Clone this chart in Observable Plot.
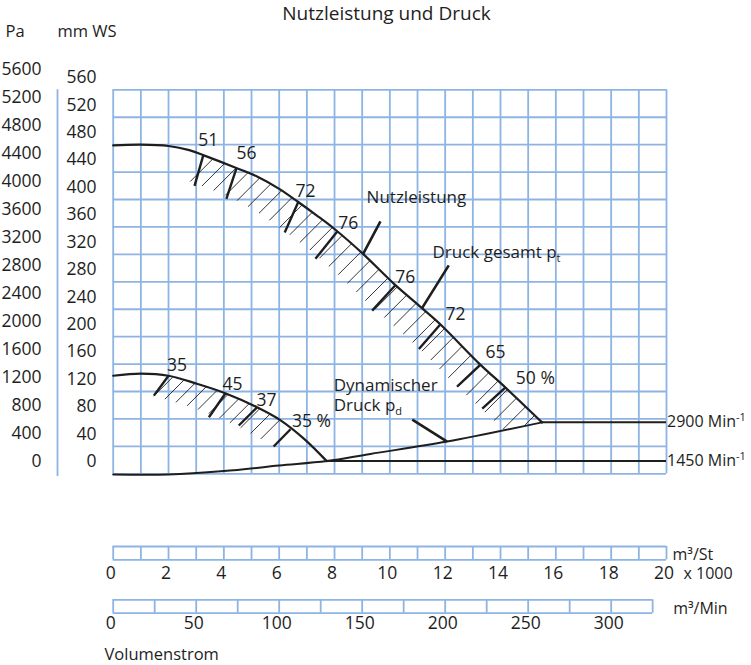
<!DOCTYPE html>
<html><head><meta charset="utf-8">
<script src="https://cdn.jsdelivr.net/npm/d3@7"></script>
<script src="https://cdn.jsdelivr.net/npm/@observablehq/plot@0.6"></script>
<style>
body{margin:0;background:#fff;}
#wrap{position:relative;width:751px;height:665px;overflow:hidden;}
#wrap svg{position:absolute;left:0;}
</style></head><body><div id="wrap"></div>
<script>
// ---- data (x: Volumenstrom in 1000 m³/St, y: Druck in mm WS) ----
const pt2900Flow  = [0, 1, 2, 2.75, 3.3, 4.45, 5.2, 6, 6.7, 7.35, 8, 9.05, 10.15, 11.15, 11.85, 13.25, 14.2, 15.5];
const pt2900Press = [459, 460, 458, 452, 444, 426, 413.5, 395.5, 376, 357, 337, 300, 257, 222, 197, 140, 105, 55];
const pt1450Flow  = [0, 1, 2, 3.05, 4.05, 5.2, 6.05, 6.9, 7.72];
const pt1450Press = [123, 126, 123, 111, 97.5, 77, 58, 31, -1.5];
const pdFlow  = [0, 2, 4, 6, 7.72, 9.3, 12.07, 15.5];
const pdPress = [-21, -21, -16, -8, -1.5, 9, 27, 55];

const rpmLabels = ["2900 Min^-1", "1450 Min^-1"];
const rpmPress  = [55, -1.5];
const rpmFrom   = [15.5, 7.72];

const eff2900Labels = ["51", "56", "72", "76", "76", "72", "65", "50 %"];
const eff2900Flow   = [3.26, 4.46, 6.69, 8.1, 10.2, 11.83, 13.27, 14.18];
const eff2900Press  = [445, 426, 376.5, 333.5, 255, 198, 139, 106];
const eff2900TickFlow  = [2.94, 4.09, 6.2, 7.31, 9.36, 11.05, 12.43, 13.34];
const eff2900TickPress = [400, 381, 332, 293.5, 218, 162, 107, 75];
const eff2900LabelFlow  = [3.44, 4.82, 6.95, 8.5, 10.56, 12.37, 13.82, 15.26];
const eff2900LabelPress = [466, 447, 392, 345, 266, 212, 157, 119];

const eff1450Labels = ["35", "45", "37", "35 %"];
const eff1450Flow   = [2.0, 4.06, 5.2, 6.41];
const eff1450Press  = [123, 97.5, 77, 45];
const eff1450TickFlow  = [1.47, 3.46, 4.54, 5.8];
const eff1450TickPress = [94, 62.5, 50.4, 19.8];
const eff1450LabelFlow  = [2.31, 4.31, 5.54, 7.17];
const eff1450LabelPress = [138, 110, 87, 56];

const annoText  = ["Nutzleistung", "Druck gesamt p_t", "Dynamischer\nDruck p_d"];
const annoFlow  = [9.16, 11.54, 7.97];
const annoPress = [384, 304, 95];
const pointerFlow1  = [9.03, 11.17, 10.81];
const pointerPress1 = [300.5, 222, 59];
const pointerFlow2  = [9.66, 12.13, 12.07];
const pointerPress2 = [348, 284, 27];

const hatchRanges = [[3.6, 15.3], [2.15, 6.3]]; // flow range of hatching, 2900 / 1450

const paTicks = [0, 400, 800, 1200, 1600, 2000, 2400, 2800, 3200, 3600, 4000, 4400, 4800, 5200, 5600];
const mmTicks = [0, 40, 80, 120, 160, 200, 240, 280, 320, 360, 400, 440, 480, 520, 560];
const xGrid = [0,1,2,3,4,5,6,7,8,9,10,11,12,13,14,15,16,17,18,19,20];
const yGrid = [-20, 20, 60, 100, 140, 180, 220, 260, 300, 340, 380, 420, 460, 500, 540];
const stTicks = [0, 2, 4, 6, 8, 10, 12, 14, 16, 18, 20];
const minCells = [0, 25, 50, 75, 100, 125, 150, 175, 200, 225, 250, 275, 300, 325];
const minTicks = [0, 50, 100, 150, 200, 250, 300];

// ---- styling ----
const GRID = "#8db4e2";
const INK = "#1e1e1e";
const FONT = "Open Sans";
const xRange = [112.7, 666];
const yRange = [473.3, 89.3];
const X = d3.scaleLinear().domain([0, 20]).range(xRange);
const Y = d3.scaleLinear().domain([-20, 540]).range(yRange);

const zip = (a, b) => a.map((v, i) => ({x: v, y: b[i]}));
const pt2900 = zip(pt2900Flow, pt2900Press);
const pt1450 = zip(pt1450Flow, pt1450Press);
const pd = zip(pdFlow, pdPress);
const rpm = rpmLabels.map((l, i) => ({label: l, y: rpmPress[i], from: rpmFrom[i]}));
const effTable = (lab, fx, fy, tx, ty, lx, ly) => lab.map((l, i) => ({label: l, x1: fx[i], y1: fy[i], x2: tx[i], y2: ty[i], lx: lx[i], ly: ly[i]}));
const eff2900 = effTable(eff2900Labels, eff2900Flow, eff2900Press, eff2900TickFlow, eff2900TickPress, eff2900LabelFlow, eff2900LabelPress);
const eff1450 = effTable(eff1450Labels, eff1450Flow, eff1450Press, eff1450TickFlow, eff1450TickPress, eff1450LabelFlow, eff1450LabelPress);
const anno = annoText.map((t, i) => ({t, x: annoFlow[i], y: annoPress[i]}));
const pointers = pointerFlow1.map((v, i) => ({x1: v, y1: pointerPress1[i], x2: pointerFlow2[i], y2: pointerPress2[i]}));

// hatch decoration, sampled along the drawn curves in pixel space
const pdPx = pdFlow.map((x, i) => [X(x), Y(pdPress[i])]);
function pdY(px) {
  if (px <= pdPx[0][0]) return 1e9;
  for (let i = 0; i < pdPx.length - 1; i++) {
    const [a, b] = [pdPx[i], pdPx[i + 1]];
    if (px >= a[0] && px <= b[0]) return a[1] + (b[1] - a[1]) * (px - a[0]) / (b[0] - a[0]);
  }
  return pdPx[pdPx.length - 1][1];
}
function hatchLinks(fx, fy, range, step, len) {
  const P = fx.map((x, i) => [X(x), Y(fy[i])]);
  const out = [];
  let next = 0, acc = 0;
  const c = Math.SQRT1_2;
  for (let i = 0; i < P.length - 1; i++) {
    const [x0, y0] = P[i], [x1, y1] = P[i + 1];
    const L = Math.hypot(x1 - x0, y1 - y0);
    for (let s = 0; s < L; s += 0.5) {
      const px = x0 + (x1 - x0) * s / L, py = y0 + (y1 - y0) * s / L;
      const d = acc + s;
      if (px >= X(range[0]) && px <= X(range[1]) && d >= next) {
        let t = 0;
        while (t < len) { const qx = px - t * c, qy = py + t * c; if (qy > pdY(qx) - 1) break; t += 0.5; }
        out.push({x1: X.invert(px), y1: Y.invert(py), x2: X.invert(px - t * c), y2: Y.invert(py + t * c)});
        next = d + step;
      }
    }
    acc += L;
  }
  return out;
}
const hatchUp = hatchLinks(pt2900Flow, pt2900Press, hatchRanges[0], 12.5, 32);
const hatchLow = hatchLinks(pt1450Flow, pt1450Press, hatchRanges[1], 11.5, 27);

const T = {fontFamily: FONT, fontSize: 17.5, fill: INK, lineAnchor: "middle"};
const base = {
  marginTop: 0, marginRight: 0, marginBottom: 0, marginLeft: 0,
  style: {background: "transparent", fontFamily: FONT, fontSize: "16px", color: INK}
};

const main = Plot.plot({
  ...base, width: 751, height: 490,
  x: {domain: [0, 20], range: xRange, axis: null},
  y: {domain: [-20, 540], range: yRange, axis: null},
  marks: [
    Plot.ruleX(xGrid, {x: d => d, y1: -20, y2: 540, stroke: GRID, strokeWidth: 1.8}),
    Plot.ruleY(yGrid, {y: d => d, x1: 0, x2: 20, stroke: GRID, strokeWidth: 1.8}),
    Plot.ruleX([0], {x: d => d, y1: -24, y2: 540, dx: -55.7, stroke: GRID, strokeWidth: 1.8}),
    Plot.text(paTicks, {y: d => d / 9.81, text: d => String(d), frameAnchor: "left", dx: 41, dy: 1, textAnchor: "end", ...T}),
    Plot.text(mmTicks, {y: d => d, text: d => String(d), frameAnchor: "left", dx: 96, dy: 1.5, textAnchor: "end", ...T}),
    Plot.text(["Pa"], {frameAnchor: "top-left", dx: 5, dy: 31, textAnchor: "start", ...T, fontSize: 16.5}),
    Plot.text(["mm WS"], {frameAnchor: "top-left", dx: 57, dy: 31, textAnchor: "start", ...T, fontSize: 16.5}),
    Plot.text(["Nutzleistung und Druck"], {frameAnchor: "top-left", dx: 386, dy: 13, textAnchor: "middle", ...T, fontSize: 19}),
    Plot.link(hatchUp, {x1: "x1", y1: "y1", x2: "x2", y2: "y2", stroke: INK, strokeWidth: 0.9}),
    Plot.link(hatchLow, {x1: "x1", y1: "y1", x2: "x2", y2: "y2", stroke: INK, strokeWidth: 0.9}),
    Plot.line(pt2900, {x: "x", y: "y", curve: "catmull-rom", stroke: INK, strokeWidth: 2.2}),
    Plot.line(pt1450, {x: "x", y: "y", curve: "catmull-rom", stroke: INK, strokeWidth: 2.2}),
    Plot.line(pd, {x: "x", y: "y", curve: "catmull-rom", stroke: INK, strokeWidth: 2}),
    Plot.ruleY(rpm, {y: "y", x1: "from", x2: 20, stroke: INK, strokeWidth: 2}),
    Plot.link(eff2900, {x1: "x1", y1: "y1", x2: "x2", y2: "y2", stroke: INK, strokeWidth: 2.4}),
    Plot.link(eff1450, {x1: "x1", y1: "y1", x2: "x2", y2: "y2", stroke: INK, strokeWidth: 2.4}),
    Plot.link(pointers, {x1: "x1", y1: "y1", x2: "x2", y2: "y2", stroke: INK, strokeWidth: 2.6}),
    Plot.text(eff2900, {x: "lx", y: "ly", text: "label", ...T}),
    Plot.text(eff1450, {x: "lx", y: "ly", text: "label", ...T}),
    Plot.text(anno, {x: "x", y: "y", text: "t", textAnchor: "start", lineHeight: 1.15, ...T, fontSize: 17}),
    Plot.text(rpm, {x: 20, y: "y", text: "label", dx: 0.5, textAnchor: "start", ...T, fontSize: 16})
  ]
});

const perSt = Plot.plot({
  ...base, width: 751, height: 60,
  x: {domain: [0, 20], range: xRange, axis: null},
  y: {domain: [0, 1], range: [34.3, 21], axis: null},
  marks: [
    Plot.ruleX(xGrid, {x: d => d, y1: 0, y2: 1, stroke: GRID, strokeWidth: 1.8}),
    Plot.ruleY([0, 1], {y: d => d, x1: 0, x2: 20, stroke: GRID, strokeWidth: 1.8}),
    Plot.text(stTicks, {x: d => d, text: d => String(d), frameAnchor: "top", dy: 48.3, dx: -2.5, ...T}),
    Plot.text(["m³/St"], {x: 20, frameAnchor: "top", dy: 29, dx: 6, textAnchor: "start", ...T, fontSize: 16}),
    Plot.text(["x 1000"], {x: 20, frameAnchor: "top", dy: 48.3, dx: 17, textAnchor: "start", ...T, fontSize: 16})
  ]
});

const perMin = Plot.plot({
  ...base, width: 751, height: 80,
  x: {domain: [0, 325], range: [X(0), X(325 * 60 / 1000)], axis: null},
  y: {domain: [0, 1], range: [27.7, 14.3], axis: null},
  marks: [
    Plot.ruleX(minCells, {x: d => d, y1: 0, y2: 1, stroke: GRID, strokeWidth: 1.8}),
    Plot.ruleY([0, 1], {y: d => d, x1: 0, x2: 325, stroke: GRID, strokeWidth: 1.8}),
    Plot.text(minTicks, {x: d => d, text: d => String(d), frameAnchor: "top", dy: 38.3, dx: -2.5, ...T}),
    Plot.text(["m³/Min"], {x: 325, frameAnchor: "top", dy: 23.3, dx: 20.5, textAnchor: "start", ...T, fontSize: 16}),
    Plot.text(["Volumenstrom"], {frameAnchor: "top-left", dx: 104, dy: 69, textAnchor: "start", ...T, fontSize: 16.5})
  ]
});

const wrap = document.getElementById("wrap");
main.style.top = "0px"; perSt.style.top = "525px"; perMin.style.top = "585px";
wrap.append(main, perSt, perMin);

// sub- and superscripts (p_t, p_d, Min^-1)
const NS = "http://www.w3.org/2000/svg";
wrap.querySelectorAll("text, tspan").forEach(t => {
  if (t.children.length) return;
  const s = t.textContent;
  const m = s.match(/^(.*?)([_^])(.+)$/);
  if (!m) return;
  t.textContent = m[1];
  const ts = document.createElementNS(NS, "tspan");
  ts.setAttribute("font-size", "11");
  ts.setAttribute("dy", m[2] === "_" ? "0.4em" : "-0.6em");
  ts.textContent = m[3];
  t.appendChild(ts);
});
</script></body></html>
